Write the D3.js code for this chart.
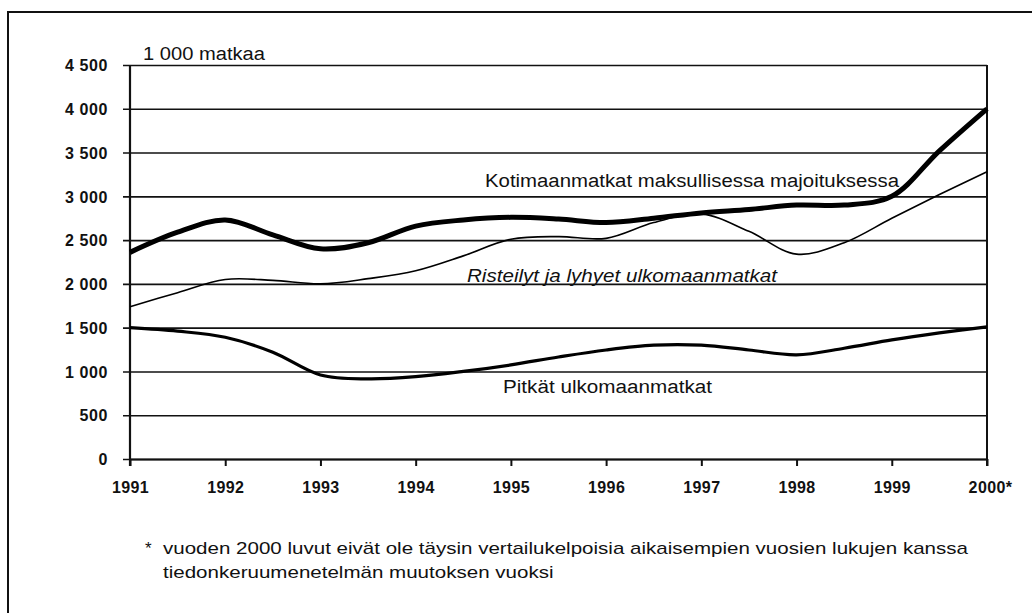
<!DOCTYPE html>
<html>
<head>
<meta charset="utf-8">
<script src="https://cdn.jsdelivr.net/npm/d3@7"></script>
<style>
  body { margin: 0; background: #fff; }
  svg { display: block; font-family: "Liberation Sans", Arial, sans-serif; }
  .tick-label { font-weight: bold; font-size: 16px; fill: #111; }
  .series-label { font-size: 18px; fill: #111; }
  .note { font-size: 17px; fill: #111; }
</style>
</head>
<body>
<div id="chart"></div>
<script>
// half-year sample points
const periods = [1991, 1991.5, 1992, 1992.5, 1993, 1993.5, 1994, 1994.5, 1995, 1995.5,
                 1996, 1996.5, 1997, 1997.5, 1998, 1998.5, 1999, 1999.5, 2000];

const kotimaan  = [2360, 2590, 2730, 2560, 2400, 2470, 2660, 2730, 2760, 2740,
                   2700, 2750, 2810, 2850, 2900, 2900, 3000, 3520, 4000];
const risteilyt = [1740, 1900, 2050, 2040, 2000, 2060, 2150, 2320, 2510, 2540,
                   2520, 2700, 2800, 2600, 2340, 2470, 2750, 3020, 3280];
const pitkat    = [1500, 1460, 1390, 1220, 960, 915, 940, 1000, 1075, 1165,
                   1245, 1300, 1300, 1245, 1190, 1265, 1360, 1440, 1510];

const yearTicks  = [1991, 1992, 1993, 1994, 1995, 1996, 1997, 1998, 1999, 2000];
const yearLabels = ['1991', '1992', '1993', '1994', '1995', '1996', '1997', '1998', '1999', '2000*'];
const valueTicks = [0, 500, 1000, 1500, 2000, 2500, 3000, 3500, 4000, 4500];

const unitLabel = '1 000 matkaa';
const footnote = [
    '*',
    'vuoden 2000 luvut eivät ole täysin vertailukelpoisia aikaisempien vuosien lukujen kanssa',
    'tiedonkeruumenetelmän muutoksen vuoksi'
];

const width = 1032, height = 613;
const margin = { top: 65, right: 45, bottom: 154, left: 130 };
const drawWidth = width - margin.left - margin.right;
const drawHeight = height - margin.top - margin.bottom;

const svg = d3.select('#chart').append('svg')
    .attr('width', width)
    .attr('height', height);

// outer frame (only top and left edges inside the picture)
svg.append('rect')
    .attr('x', 8).attr('y', 12)
    .attr('width', 1100).attr('height', 700)
    .attr('fill', 'none').attr('stroke', '#111').attr('stroke-width', 2);

const x = d3.scaleLinear().domain([1991, 2000]).range([0, drawWidth]);
const y = d3.scaleLinear().domain([0, 4500]).range([drawHeight, 0]);

const g = svg.append('g')
    .attr('transform', `translate(${margin.left},${margin.top})`);

// gridlines with the outward tick
const yAxis = d3.axisLeft(y).tickValues(valueTicks)
    .tickSize(-drawWidth).tickSizeOuter(0)
    .tickFormat(d => d3.format(',')(d).replace(',', ' '));

const yg = g.append('g').call(yAxis);
yg.select('.domain').remove();
yg.selectAll('.tick line')
    .attr('x1', -7)
    .attr('stroke', '#111').attr('stroke-width', 1.6);
yg.selectAll('.tick text')
    .attr('class', 'tick-label')
    .attr('x', -22)
    .attr('dy', '0.36em')
    .style('letter-spacing', '0.6px');

// x axis
const xAxis = d3.axisBottom(x).tickValues(yearTicks)
    .tickSize(7).tickSizeOuter(0)
    .tickFormat((d, i) => yearLabels[i])
    .tickPadding(16);

const xg = g.append('g')
    .attr('transform', `translate(0,${drawHeight})`)
    .call(xAxis);
xg.select('.domain').attr('stroke', '#111').attr('stroke-width', 2);
xg.selectAll('.tick line').attr('stroke', '#111').attr('stroke-width', 2);
xg.selectAll('.tick text')
    .attr('class', 'tick-label')
    .style('letter-spacing', '0.4px')
    .attr('dx', (d, i) => i === yearLabels.length - 1 ? 3 : 0);

// left axis line and right frame line
g.append('line')
    .attr('x1', 0).attr('x2', 0)
    .attr('y1', 0).attr('y2', drawHeight + 7)
    .attr('stroke', '#111').attr('stroke-width', 2.2);
g.append('line')
    .attr('x1', drawWidth).attr('x2', drawWidth)
    .attr('y1', 0).attr('y2', drawHeight + 7)
    .attr('stroke', '#111').attr('stroke-width', 2);

// series lines
const line = d3.line()
    .x(d => x(d[0]))
    .y(d => y(d[1]))
    .curve(d3.curveCatmullRom.alpha(0.5));

const series = [
    { values: risteilyt, w: 1.6 },
    { values: pitkat, w: 3.2 },
    { values: kotimaan, w: 5 }
];

g.selectAll('.series')
    .data(series)
    .enter().append('path')
    .attr('class', 'series')
    .attr('d', s => line(periods.map((p, i) => [p, s.values[i]])))
    .attr('fill', 'none')
    .attr('stroke', '#000')
    .attr('stroke-width', s => s.w)
    .attr('stroke-linejoin', 'round');

// series labels
const labels = [
    { text: 'Kotimaanmatkat maksullisessa majoituksessa', x: 485, y: 187, len: 414, italic: false },
    { text: 'Risteilyt ja lyhyet ulkomaanmatkat', x: 467, y: 282, len: 310, italic: true },
    { text: 'Pitkät ulkomaanmatkat', x: 503, y: 393, len: 209, italic: false }
];

svg.selectAll('.series-label')
    .data(labels)
    .enter().append('text')
    .attr('class', 'series-label')
    .attr('x', d => d.x).attr('y', d => d.y)
    .attr('textLength', d => d.len)
    .attr('lengthAdjust', 'spacingAndGlyphs')
    .style('font-style', d => d.italic ? 'italic' : 'normal')
    .text(d => d.text);

svg.append('text')
    .attr('class', 'series-label')
    .attr('x', 143).attr('y', 60)
    .attr('textLength', 122).attr('lengthAdjust', 'spacingAndGlyphs')
    .text(unitLabel);

// footnote
svg.append('text')
    .attr('class', 'note')
    .attr('x', 145).attr('y', 554)
    .text(footnote[0]);
const note1 = svg.append('text')
    .attr('class', 'note')
    .attr('x', 163).attr('y', 554)
    .text(footnote[1]);
const note2 = svg.append('text')
    .attr('class', 'note')
    .attr('x', 163).attr('y', 578)
    .text(footnote[2]);

// stretch both footnote lines by the same factor
const k = 805 / note1.node().getComputedTextLength();
note1.attr('textLength', 805).attr('lengthAdjust', 'spacingAndGlyphs');
note2.attr('textLength', note2.node().getComputedTextLength() * k)
    .attr('lengthAdjust', 'spacingAndGlyphs');
</script>
</body>
</html>
